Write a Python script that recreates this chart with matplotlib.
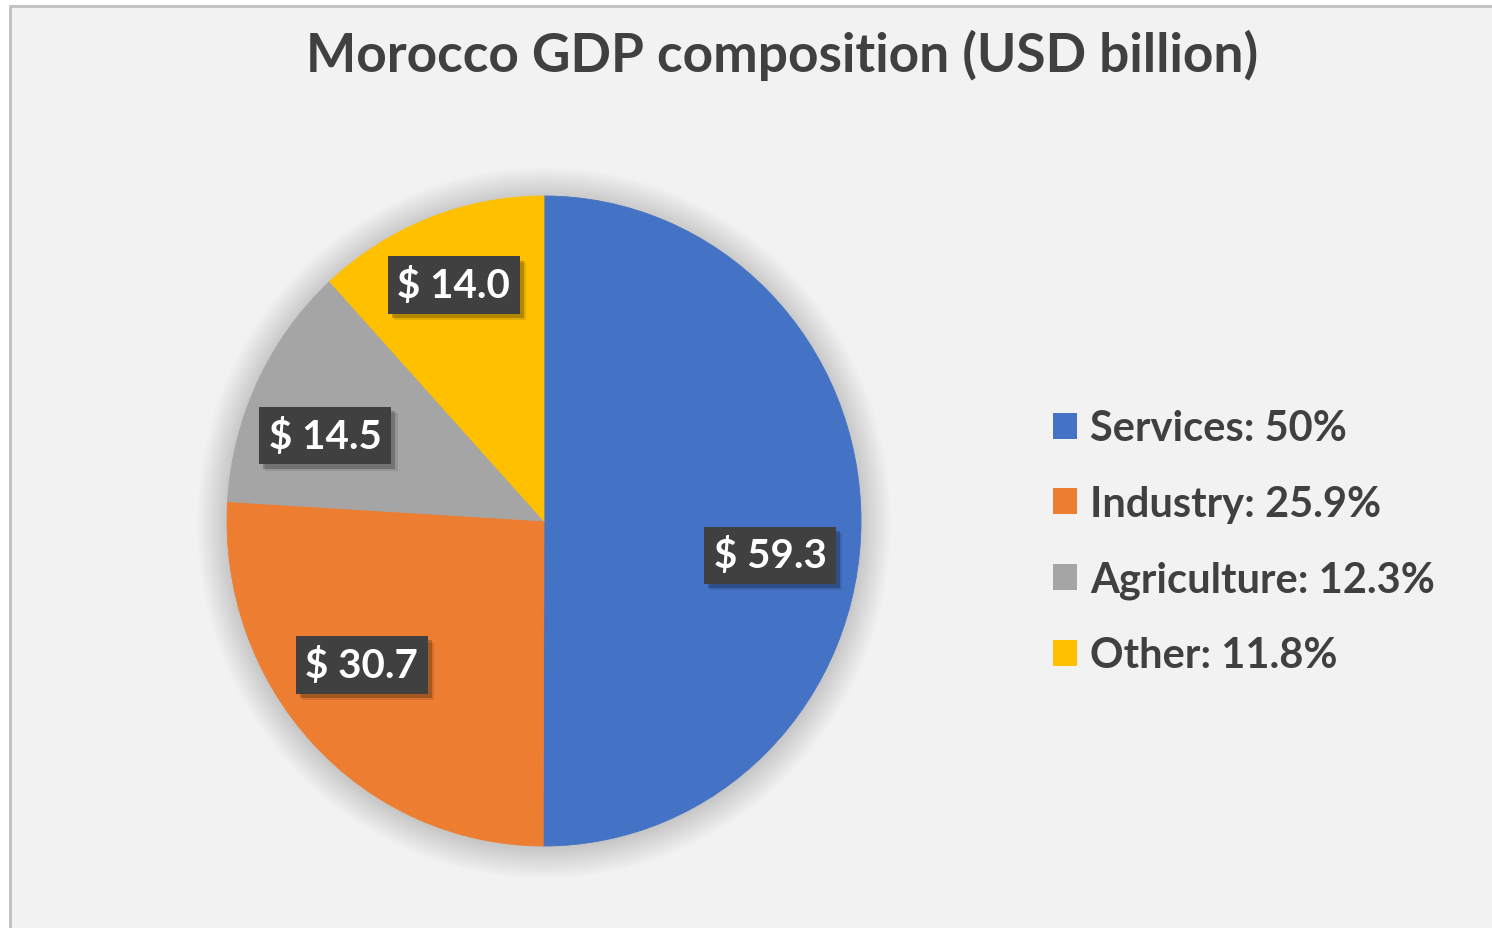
import matplotlib.pyplot as plt
import matplotlib.patheffects as pe
from matplotlib.patches import Rectangle, Patch, Ellipse
import numpy as np

# GDP composition, USD billion
sectors = ["Services", "Industry", "Agriculture", "Other"]
gdp_values = [59.3, 30.7, 14.5, 14.0]
legend_shares = ["50%", "25.9%", "12.3%", "11.8%"]
sector_colors = ["#4472C4", "#ED7D31", "#A5A5A5", "#FFC000"]

# small nudges for the value boxes (data units)
label_nudge = [(-0.007, -0.105), (-0.05, 0.05), (-0.04, -0.047), (-0.023, 0.055)]

plt.rcParams['font.family'] = ['Lato', 'DejaVu Sans']
text_color = "#404040"

W, H = 1492, 929
fig = plt.figure(figsize=(W / 100, H / 100), dpi=100)
fig.patch.set_facecolor("white")

# chart area with grey frame
fig.patches.append(Rectangle((10 / W, -0.02), 1.0, 1.02 - 7 / H,
                             transform=fig.transFigure, facecolor="#F2F2F2",
                             edgecolor="#BFBFBF", linewidth=2, zorder=-10))

fig.text(782 / W, 1 - 55 / H, "Morocco GDP composition (USD billion)",
         ha="center", va="center", fontsize=38.3, fontweight="bold", color=text_color)

# pie axes, slightly taller than wide like the original export
cx, cy, rx, ry, lim = 544, 522, 317, 325, 1.15
ax = fig.add_axes([(cx - lim * rx) / W, (H - cy - lim * ry) / H,
                   2 * lim * rx / W, 2 * lim * ry / H])
ax.patch.set_alpha(0)

wedges, _ = ax.pie(gdp_values, colors=sector_colors, startangle=90,
                   counterclock=False, radius=1)
for w in wedges:
    w.set_zorder(3)
    w.set_edgecolor(w.get_facecolor())
    w.set_linewidth(0.6)
ax.set_aspect("auto")
ax.set_xlim(-lim, lim)
ax.set_ylim(-lim, lim)

# soft shadow around the pie
for k in range(22):
    r = 1 + 0.0045 * k
    ax.add_patch(Ellipse((0, -0.006), 2 * r, 2 * r, facecolor="black",
                         edgecolor="none", alpha=0.007, zorder=1))

# value boxes with a drop shadow
box_shadow = [pe.SimplePatchShadow(offset=(4.5, -4.5), shadow_rgbFace="black", alpha=0.10),
              pe.SimplePatchShadow(offset=(3, -3), shadow_rgbFace="black", alpha=0.22),
              pe.Normal()]
for w, val, (dx, dy) in zip(wedges, gdp_values, label_nudge):
    mid = np.deg2rad((w.theta1 + w.theta2) / 2)
    x = 0.72 * np.cos(mid) + dx
    y = 0.72 * np.sin(mid) + dy
    t = ax.text(x, y, f"$ {val:.1f}", ha="center", va="center", fontsize=29,
                color="white", fontweight="bold",
                bbox=dict(boxstyle="square,pad=0.24", facecolor="#404040",
                          edgecolor="none"), zorder=5)
    t.get_bbox_patch().set_path_effects(box_shadow)

handles = [Patch(facecolor=c, edgecolor="none") for c in sector_colors]
labels = [f"{s}: {p}" for s, p in zip(sectors, legend_shares)]
leg = ax.legend(handles, labels, loc="center left",
                bbox_to_anchor=(1053 / W, 1 - 543 / H), bbox_transform=fig.transFigure,
                frameon=False, handlelength=0.57, handleheight=0.57,
                handletextpad=0.32, labelspacing=0.9, borderpad=0, borderaxespad=0,
                prop=dict(weight="bold", size=30))
for t in leg.get_texts():
    t.set_color(text_color)

fig.savefig("out.png", dpi=100, facecolor=fig.get_facecolor())
